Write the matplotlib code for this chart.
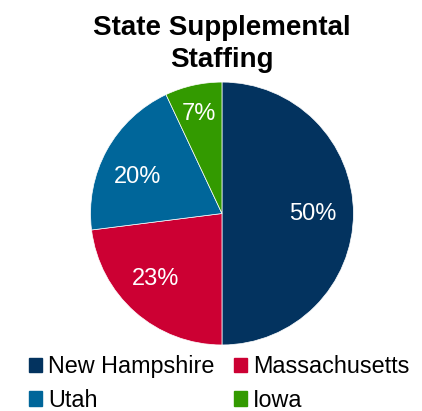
import numpy as np
import matplotlib.pyplot as plt
from matplotlib.patches import Patch

plt.rcParams['font.family'] = ['Liberation Sans', 'DejaVu Sans']

states = ["New Hampshire", "Massachusetts", "Utah", "Iowa"]
shares = [50, 23, 20, 7]
colors = ["#03335f", "#cc0033", "#00669a", "#339a00"]

fig = plt.figure(figsize=(4.22, 4.11), dpi=100)
ax = fig.add_axes([0.2145, 0.1605, 0.623, 0.640])
wedges, texts, autotexts = ax.pie(
    shares, colors=colors, startangle=90, counterclock=False,
    autopct='%d%%', pctdistance=0.7,
    wedgeprops=dict(edgecolor='white', linewidth=0.5),
    textprops=dict(color='white', fontsize=17))
ax.set_xlim(-1, 1)
ax.set_ylim(-1, 1)
ax.set_aspect('equal')

# nudge labels like the original layout (radius, angle tweak in degrees)
label_r = [0.69, 0.71, 0.70, 0.78]
label_dang = [0, -4, 5.5, 0.5]
for w, t, r, da in zip(wedges, autotexts, label_r, label_dang):
    ang = np.deg2rad((w.theta1 + w.theta2) / 2 + da)
    t.set_position((r * np.cos(ang), r * np.sin(ang)))

fig.text(0.526, 0.892, "State Supplemental\nStaffing", ha='center', va='center',
         fontsize=20, fontweight='bold', linespacing=1.3)

# legend order: NH, Utah (col 1), MA, Iowa (col 2)
order = [0, 2, 1, 3]
handles = [Patch(color=colors[i]) for i in order]
labels = [states[i] for i in order]
fig.legend(handles, labels, ncol=2, loc='lower left', bbox_to_anchor=(0.02, -0.053),
           frameon=False, fontsize=16.8, handlelength=0.55, handleheight=0.55,
           handletextpad=0.25, columnspacing=0.85, labelspacing=0.45)

plt.savefig("out.png", dpi=100)
